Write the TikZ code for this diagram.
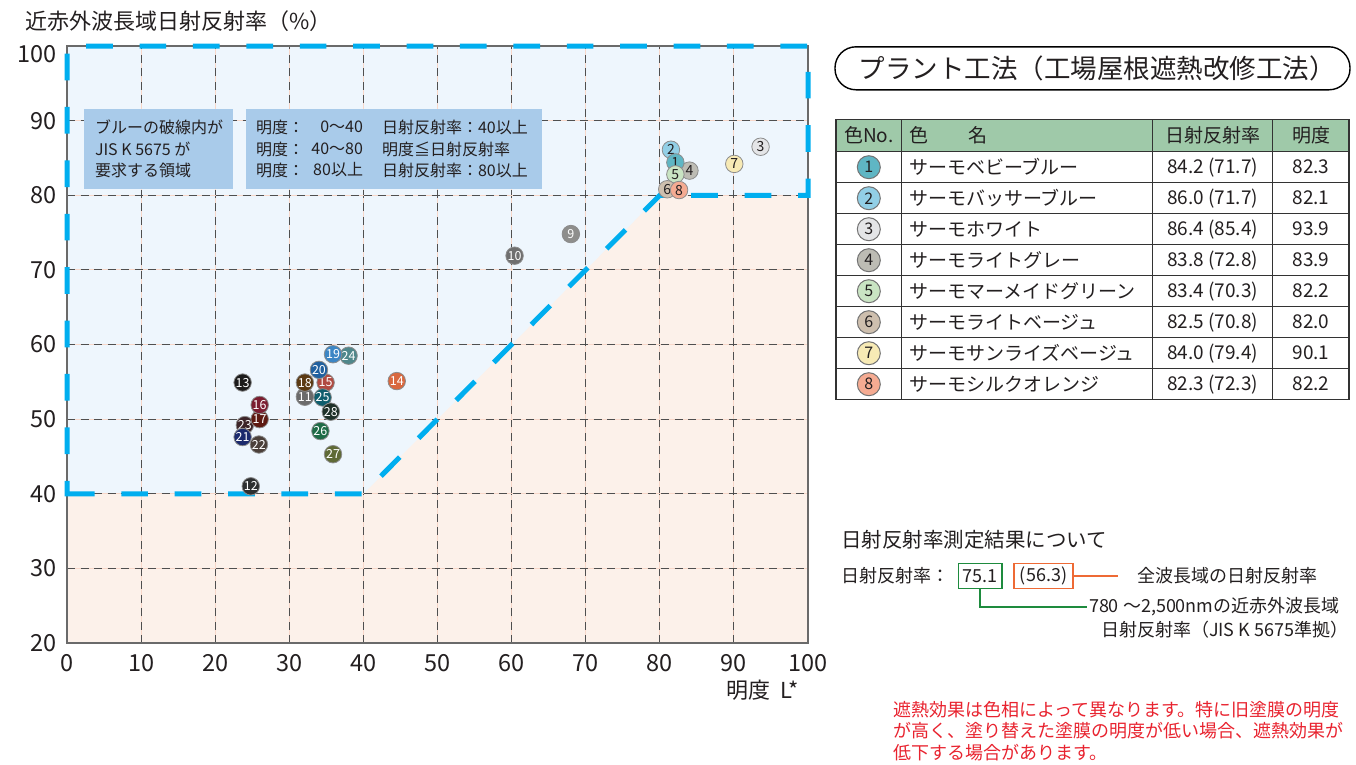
\documentclass[tikz,border=0pt]{standalone}
\usepackage{fontspec}
\setmainfont{Noto Sans CJK JP}
\definecolor{plotblue}{HTML}{EEF6FD}
\definecolor{plotpeach}{HTML}{FCF1EA}
\definecolor{gridpink}{HTML}{F8D8CA}
\definecolor{gridgray}{HTML}{4F4F4F}
\definecolor{framegray}{HTML}{6A6A6A}
\definecolor{limitcyan}{HTML}{00AEEF}
\definecolor{noteblue}{HTML}{A9CBEA}
\definecolor{headgreen}{HTML}{9FC9A9}
\definecolor{okgreen}{HTML}{1E8B3E}
\definecolor{allorange}{HTML}{EE6A35}
\definecolor{notered}{HTML}{E8232F}
\definecolor{inkgray}{HTML}{231F20}
\definecolor{c1}{HTML}{5FB6C4}
\definecolor{c2}{HTML}{92CFE6}
\definecolor{c3}{HTML}{E4E5E7}
\definecolor{c4}{HTML}{BDBCB4}
\definecolor{c5}{HTML}{C9E4C3}
\definecolor{c6}{HTML}{CEBFAE}
\definecolor{c7}{HTML}{F7EAB5}
\definecolor{c8}{HTML}{F5AB92}
\definecolor{c9}{HTML}{8E8E8C}
\definecolor{c10}{HTML}{6F6F6F}
\definecolor{c11}{HTML}{6B6B6B}
\definecolor{c12}{HTML}{2D2F30}
\definecolor{c13}{HTML}{1B1B1B}
\definecolor{c14}{HTML}{D9683F}
\definecolor{c15}{HTML}{B04A41}
\definecolor{c16}{HTML}{7B1D30}
\definecolor{c17}{HTML}{5E1A12}
\definecolor{c18}{HTML}{5B3A13}
\definecolor{c19}{HTML}{3C86C5}
\definecolor{c20}{HTML}{20609F}
\definecolor{c21}{HTML}{1B2A6D}
\definecolor{c22}{HTML}{4B403A}
\definecolor{c23}{HTML}{3D2528}
\definecolor{c24}{HTML}{4F878B}
\definecolor{c25}{HTML}{0F5E6D}
\definecolor{c26}{HTML}{1E6B47}
\definecolor{c27}{HTML}{5F6A36}
\definecolor{c28}{HTML}{1F3129}
\begin{document}
\begin{tikzpicture}[x=1pt, y=-1pt, inner sep=0pt, outer sep=0pt, text=inkgray,
  axistitle/.style={font=\fontsize{22}{26}\selectfont},
  ticklabel/.style={font=\fontsize{23.5}{26}\selectfont},
  gridsoft/.style={draw=gridpink, line width=1pt},
  griddash/.style={draw=gridgray, line width=1.1pt, dash pattern=on 8pt off 5.5pt},
  limitline/.style={draw=limitcyan, line width=5pt, dash pattern=on 26.7pt off 26.7pt, dash phase=3.7pt},
  notebox/.style={fill=noteblue, minimum height=80pt, anchor=north west},
  notetext/.style={font=\fontsize{16}{21.5}\selectfont, align=left},
  sample/.style={circle, minimum size=17.5pt, draw=black!45, line width=0.8pt, font=\fontsize{12.5}{13}\selectfont},
  tableline/.style={draw=black!80, line width=1.3pt},
  tabletext/.style={font=\fontsize{19}{22}\selectfont},
  tabledot/.style={circle, minimum size=23pt, draw=black!55, line width=1pt, font=\fontsize{16}{18}\selectfont},
  smalltext/.style={font=\fontsize{18}{21}\selectfont},
  leader/.style={line width=1.5pt}]
\useasboundingbox (0,0) rectangle (1356,764);
\begin{scope}[shift={(67,792.25)}, x=7.41pt, y=7.4625pt]
  \fill[plotpeach] (0,20) rectangle (100,100);
  \fill[plotblue] (0,40) -- (40,40) -- (80,80) -- (100,80) -- (100,100) -- (0,100) -- cycle;
  \foreach \v in {10,20,...,90} {
    \draw[gridsoft] (\v,20) -- (\v,100);
    \draw[griddash] (\v,20) -- (\v,100);
  }
  \foreach \v in {30,40,...,90} {
    \draw[gridsoft] (0,\v) -- (100,\v);
    \draw[griddash] (0,\v) -- (100,\v);
  }
  \draw[draw=framegray, line width=1.4pt] (0,20) rectangle (100,100);
  \draw[limitline] (1.35,40) -- (0,40) -- (0,100) -- (100,100) -- (100,80) -- (80,80) -- (40,40) -- cycle;
  \foreach \v in {20,30,...,90}
    \node[ticklabel, anchor=east] (ytick\v) at (-1.35,\v) {\v};
  \node[ticklabel, anchor=east] (ytick100) at (-1.35,98.95) {100};
  \foreach \v in {0,10,...,100}
    \node[ticklabel] (xtick\v) at (\v,17.32) {\v};
  \node[axistitle] (xtitle) at (93.9,13.7) {明度\hspace{10pt}L*};
  \foreach \n/\px/\py in {23/24.0/49.2, 21/23.7/47.6, 22/25.9/46.6, 17/26.0/50.0, 16/26.0/51.9,
      13/23.7/54.9, 12/24.8/41.0, 11/32.1/53.0, 18/32.1/54.9, 15/34.9/54.9, 20/34.0/56.6,
      25/34.5/52.9, 28/35.6/51.0, 26/34.2/48.4, 27/35.9/45.3, 24/38.0/58.5, 19/35.9/58.7,
      14/44.5/55.1, 10/60.4/71.9, 9/68.0/74.8}
    \node[sample, fill=c\n, text=white] (pt\n) at (\px,\py) {\n};
  \foreach \n/\px/\py in {4/84.0/83.3, 2/81.5/86.1, 1/82.1/84.4, 5/82.1/82.8, 3/93.6/86.5,
      7/90.05/84.2, 6/81.0/80.8, 8/82.6/80.7}
    \node[sample, fill=c\n, font=\fontsize{14}{14}\selectfont] (pt\n) at (\px,\py) {\n};
\end{scope}
\node[axistitle, anchor=west] (ytitle) at (25,21) {近赤外波長域日射反射率（\%）};
\node[notebox, minimum width=149pt] (zonebox) at (84,109) {};
\node[notetext, anchor=west] (zonetext) at (95,149) {ブルーの破線内が\\JIS K 5675 が\\要求する領域};
\node[notebox, minimum width=296pt] (rulebox) at (246,109) {};
\node[notetext, anchor=west] (rulekey) at (256,149) {明度：\\明度：\\明度：};
\node[notetext, anchor=east, align=right] (rulerange) at (363,149) {0〜40\\40〜80\\80以上};
\node[notetext, anchor=west] (rulecond) at (382,149) {日射反射率：40以上\\明度≦日射反射率\\日射反射率：80以上};
\node[draw=black, line width=1.4pt, rounded corners=21pt, minimum width=515pt, minimum height=43pt] (method) at (1092.5,68.3) {};
\node[font=\fontsize{26.5}{30}\selectfont] (methodtext) at (1097,68.3) {プラント工法（工場屋根遮熱改修工法）};
\fill[headgreen] (836,119.3) rectangle (1349,151.7);
\foreach \i in {0,...,7}
  \draw[tableline] (836,151.7+31*\i) -- (1349,151.7+31*\i);
\foreach \cx in {901.7,1152.7,1272.7}
  \draw[tableline] (\cx,119.3) -- (\cx,399.7);
\draw[tableline] (836,119.3) rectangle (1349,399.7);
\node[tabletext] (headno) at (868.8,135.5) {色No.};
\node[tabletext, anchor=west] (headname) at (909,135.5) {色\hspace{40pt}名};
\node[tabletext] (headsr) at (1212.7,135.5) {日射反射率};
\node[tabletext] (headl) at (1311,135.5) {明度};
\foreach \n/\name/\val/\lum in {1/サーモベビーブルー/84.2 (71.7)/82.3, 2/サーモバッサーブルー/86.0 (71.7)/82.1,
    3/サーモホワイト/86.4 (85.4)/93.9, 4/サーモライトグレー/83.8 (72.8)/83.9,
    5/サーモマーメイドグリーン/83.4 (70.3)/82.2, 6/サーモライトベージュ/82.5 (70.8)/82.0,
    7/サーモサンライズベージュ/84.0 (79.4)/90.1, 8/サーモシルクオレンジ/82.3 (72.3)/82.2} {
  \node[tabledot, fill=c\n] (tdot\n) at (868.8,136.2+31*\n) {\n};
  \node[tabletext, anchor=west] (tname\n) at (909,136.2+31*\n) {\name};
  \node[tabletext] (tval\n) at (1212.7,136.2+31*\n) {\val};
  \node[tabletext] (tlum\n) at (1311,136.2+31*\n) {\lum};
}
\node[font=\fontsize{20.5}{24}\selectfont, anchor=west] (about) at (841,540) {日射反射率測定結果について};
\node[smalltext, anchor=west] (srlabel) at (841,576) {日射反射率：};
\node[smalltext, draw=okgreen, leader, minimum width=43.5pt, minimum height=25pt] (nirval) at (980,576) {75.1};
\node[smalltext, draw=allorange, leader, minimum width=59pt, minimum height=25pt] (allval) at (1043.5,576) {(56.3)};
\coordinate (allend) at (1118,576);
\draw[draw=allorange, leader] (allval.east) -- (allend);
\node[smalltext, anchor=west] (allnote) at (1137,576) {全波長域の日射反射率};
\coordinate (nirend) at (1087,607);
\draw[draw=okgreen, leader] (nirval.south) |- (nirend);
\node[smalltext, anchor=west] (nirnote) at (1089,607) {780 〜2,500nmの近赤外波長域};
\node[smalltext, anchor=west] (nirnote2) at (1101,630) {日射反射率（JIS K 5675準拠）};
\node[font=\fontsize{18}{21.5}\selectfont, text=notered, align=left, anchor=north west] (warning) at (893,701) {遮熱効果は色相によって異なります。特に旧塗膜の明度\\が高く、塗り替えた塗膜の明度が低い場合、遮熱効果が\\低下する場合があります。};
\end{tikzpicture}
\end{document}
